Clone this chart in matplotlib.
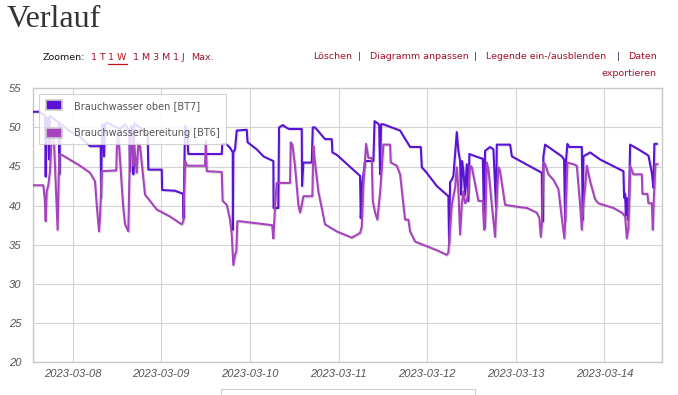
import matplotlib
matplotlib.use("Agg")
import matplotlib.pyplot as plt
import matplotlib.dates as mdates
import matplotlib.patheffects as pe
from matplotlib.patches import Patch, Rectangle
from matplotlib.lines import Line2D
import pandas as pd

# hours after 2023-03-07 00:00, temperature in degC
bt7_hours = [13.25, 14.95, 15.5, 16.5, 16.69, 16.9, 17.4, 17.58, 17.8, 19.2, 20.2, 20.37, 20.6, 23.3,
             26.0, 28.69, 31.58, 31.67, 31.94, 32.3, 32.48, 32.8, 33.29, 36.8, 38.17, 39.3, 39.52,
             39.8, 40.2, 40.42, 40.7, 42.2, 44.3, 44.48, 48.11, 48.2, 51.71, 53.96, 54.0, 54.42,
             54.9, 55.31, 64.36, 64.5, 65.53, 66.61, 67.34, 67.38, 67.5, 67.96, 68.42, 71.13, 71.35,
             73.84, 75.63, 78.34, 78.39, 79.69, 79.88, 80.88, 81.78, 82.59, 86.03, 86.11, 86.47,
             88.74, 89.01, 89.63, 90.53, 92.34, 94.16, 94.32, 95.51, 101.82, 102.01, 102.36, 103.18,
             105.43, 105.75, 106.70, 107.0, 107.24, 107.51, 108.14, 112.66, 113.55, 115.37, 118.27,
             118.54, 119.70, 122.60, 125.74, 125.93, 126.2, 126.66, 127.10, 128.02, 128.45, 128.91,
             129.18, 129.45, 129.81, 130.27, 130.73, 131.16, 131.43, 134.33, 135.06, 135.41, 135.68,
             137.04, 137.93, 138.66, 138.85, 142.46, 142.92, 151.04, 151.12, 151.39, 151.47, 151.93,
             153.75, 156.46, 157.08, 157.35, 157.62, 157.98, 158.44, 161.88, 162.15, 162.31, 164.13,
             166.83, 173.15, 173.34, 173.61, 173.80, 174.01, 174.34, 174.69, 174.96, 177.21, 179.92,
             180.84, 181.27, 181.54, 182.20]
bt7_temp = [52.0, 52.0, 51.8, 51.5, 43.7, 51.3, 51.2, 45.9, 51.5, 51.0, 50.6, 44.0, 50.5, 49.5,
            48.8, 47.6, 47.6, 41.0, 50.4, 50.2, 46.3, 50.5, 50.6, 49.8, 50.4, 49.6, 44.4,
            50.2, 50.0, 44.0, 50.5, 50.0, 49.0, 44.6, 44.6, 42.0, 41.9, 41.5, 38.4, 50.2,
            49.8, 46.6, 46.6, 47.9, 47.9, 47.4, 46.8, 36.9, 46.8, 47.2, 49.6, 49.7, 48.1,
            47.2, 46.3, 45.7, 39.7, 39.7, 50.0, 50.3, 50.0, 49.8, 49.8, 42.5, 45.5,
            45.5, 50.0, 50.0, 49.5, 48.5, 48.5, 46.8, 46.5, 43.8, 38.4, 42.7, 45.7,
            45.7, 50.8, 50.5, 50.2, 44.0, 50.4, 50.4, 49.6, 48.9, 47.5, 47.5,
            44.9, 44.3, 42.5, 41.2, 35.2, 43.0, 43.3, 43.8, 49.4, 47.0, 45.7,
            41.4, 45.7, 44.5, 41.4, 45.3, 40.6, 46.6, 46.1, 46.0, 37.8, 47.0,
            47.5, 47.2, 39.7, 47.8, 47.8, 46.3, 44.2, 38.2, 38.0, 46.3, 47.8,
            47.2, 46.3, 45.9, 38.0, 45.9, 47.9, 47.5, 47.5, 38.2, 46.3, 46.8,
            45.9, 44.4, 41.0, 41.5, 38.8, 41.0, 38.2, 41.0, 47.8, 47.2, 46.4,
            44.2, 42.3, 47.9, 47.9]

bt6_hours = [13.25, 16.04, 16.4, 16.69, 16.96, 17.39, 17.85, 18.31, 18.9, 19.91, 20.35, 21.37,
             25.98, 28.69, 30.04, 30.50, 31.12, 31.4, 31.86, 35.8, 36.0, 36.3, 37.63, 38.17,
             39.06, 39.25, 39.52, 39.98, 40.42, 40.6, 41.34, 41.77, 42.23, 43.58, 44.94, 46.75,
             50.36, 53.53, 53.96, 54.42, 55.0, 59.84, 60.05, 60.30, 64.36, 64.6, 65.72, 66.6,
             67.07, 67.50, 67.96, 68.3, 68.59, 69.32, 78.0, 78.34, 78.8, 79.26, 82.86, 83.05,
             83.5, 84.22, 85.11, 85.57, 86.0, 86.47, 88.9, 89.17, 89.6, 90.53, 92.34, 95.51,
             99.58, 101.82, 102.28, 102.72, 103.45, 104.07, 104.99, 105.26, 105.89, 106.51, 107.3,
             108.14, 109.95, 110.14, 111.77, 112.66, 114.01, 114.91, 115.37, 116.72, 119.89,
             122.60, 125.31, 125.74, 126.66, 127.56, 128.02, 128.45, 128.91, 129.37, 129.81,
             130.27, 130.73, 131.16, 131.62, 132.1, 133.87, 135.06, 135.41, 135.68, 136.14,
             136.6, 137.50, 138.39, 138.8, 139.29, 139.7, 141.10, 145.16, 146.98, 149.69,
             150.39, 150.77, 151.12, 151.47, 151.93, 152.83, 154.19, 155.54, 156.46, 157.16,
             157.5, 157.98, 159.60, 160.52, 161.0, 161.42, 161.88, 162.3, 162.8, 163.23, 164.13,
             165.48, 166.38, 170.44, 172.71, 173.61, 174.07, 174.50, 174.96, 175.85, 178.13,
             178.29, 179.65, 179.92, 180.84, 181.11, 181.4, 181.81, 182.36]
bt6_temp = [42.6, 42.6, 41.0, 38.0, 41.8, 42.6, 44.4, 48.9, 48.5, 36.9, 46.6, 46.4,
            45.1, 44.2, 43.1, 40.1, 36.7, 38.5, 44.4, 44.5, 48.3, 49.5, 40.1, 37.6,
            36.7, 41.4, 47.6, 48.7, 45.1, 48.0, 44.2, 47.9, 47.6, 41.4, 40.6, 39.5,
            38.6, 37.6, 38.0, 45.7, 45.1, 45.1, 48.3, 44.4, 44.3, 40.6, 40.1, 38.2,
            36.3, 32.4, 33.7, 34.1, 38.0, 38.0, 37.5, 35.8, 39.9, 42.9, 42.9, 48.1,
            47.8, 45.0, 40.1, 39.1, 40.0, 41.2, 41.2, 47.6, 45.6, 41.8, 37.6, 36.7,
            35.9, 36.5, 37.3, 42.7, 47.9, 46.1, 46.1, 40.6, 39.1, 38.2, 42.0,
            47.8, 47.8, 45.5, 45.1, 44.0, 38.2, 38.2, 36.7, 35.4, 34.8,
            34.3, 33.7, 34.0, 40.1, 42.3, 44.9, 42.0, 36.3, 40.1, 41.8,
            40.3, 40.6, 41.8, 45.1, 44.9, 40.6, 40.6, 36.9, 37.2, 45.5,
            44.6, 40.1, 36.0, 40.5, 44.9, 44.5, 40.1, 39.8, 39.7, 39.1,
            38.4, 36.0, 38.0, 45.5, 45.3, 44.0, 43.3, 42.1, 38.4, 35.8,
            39.5, 45.5, 45.3, 45.1, 42.5, 40.1, 36.9, 40.1, 42.5, 45.1, 43.1,
            40.8, 40.3, 39.7, 39.1, 38.6, 35.8, 37.1, 45.1, 44.0, 44.0,
            41.5, 41.5, 40.3, 40.3, 36.9, 41.0, 45.3, 45.3]

series_labels = ["Brauchwasser oben [BT7]", "Brauchwasserbereitung [BT6]"]
series_colors = ["#5a12d6", "#a843bf"]
y_ticks = [20, 25, 30, 35, 40, 45, 50, 55]

t0 = pd.Timestamp("2023-03-07")
bt7_time = t0 + pd.to_timedelta(bt7_hours, unit="h")
bt6_time = t0 + pd.to_timedelta(bt6_hours, unit="h")

W, H = 678, 395
fig = plt.figure(figsize=(W / 100, H / 100), dpi=100)
fig.patch.set_facecolor("white")


def fx(px):
    return px / W


def fy(py):
    return 1 - py / H


ax = fig.add_axes([fx(33), fy(362), (662 - 33) / W, (362 - 88.3) / H])
shadow = [pe.SimpleLineShadow(offset=(0.8, -0.8), shadow_color="#000000", alpha=0.12),
          pe.Normal()]
ax.plot(bt7_time, bt7_temp, color=series_colors[0], lw=1.5, path_effects=shadow, zorder=3)
ax.plot(bt6_time, bt6_temp, color=series_colors[1], lw=1.5, path_effects=shadow, zorder=3)

ax.set_xlim(t0 + pd.Timedelta(hours=13.25), t0 + pd.Timedelta(hours=183.6))
ax.set_ylim(20, 55)
ax.set_yticks(y_ticks)
ax.xaxis.set_major_locator(mdates.DayLocator())
ax.xaxis.set_major_formatter(mdates.DateFormatter("%Y-%m-%d"))
ax.grid(True, color="#d4d4d4", lw=0.8)
ax.set_axisbelow(True)
for s in ax.spines.values():
    s.set_color("#c8c8c8")
    s.set_linewidth(1.0)
ax.tick_params(axis="both", length=0, labelsize=8, labelcolor="#545454")
ax.tick_params(axis="y", pad=8.5)
ax.tick_params(axis="x", pad=5)
for lab in ax.get_xticklabels() + ax.get_yticklabels():
    lab.set_fontstyle("italic")
    lab.set_family("Liberation Sans")

handles = [Patch(facecolor=c, edgecolor="#cccccc", linewidth=1.2) for c in series_colors]
leg = ax.legend(handles, series_labels, loc="upper left", bbox_to_anchor=(0.010, 0.979),
                borderaxespad=0, fancybox=False, framealpha=0.85, edgecolor="#cccccc",
                prop={"family": "DejaVu Sans", "size": 7}, labelcolor="#555555",
                handlelength=1.7, handleheight=1.2, handletextpad=1.2,
                borderpad=0.65, labelspacing=1.75)
leg.get_frame().set_linewidth(0.8)

# page title and chart toolbar
fig.text(fx(6.5), fy(27), "Verlauf", family="Liberation Serif", fontsize=23,
         color="#333333", va="baseline")

link = "#a3102e"
tb = dict(family="DejaVu Sans", fontsize=6.8, va="center")
fig.text(fx(42.7), fy(57.5), "Zoomen:", color="#111111", **tb)
for txt, x0 in [("1 T", 90.7), ("1 W", 108), ("1 M", 132.7), ("3 M", 152.7),
                ("1 J", 172.7), ("Max.", 190.7)]:
    fig.text(fx(x0), fy(57.5), txt, color="#c0141c" if txt == "1 W" else link, **tb)
fig.add_artist(Line2D([fx(108), fx(127)], [fy(63.5), fy(63.5)], color="#c0141c", lw=0.9))

for txt, x0, col in [("Löschen", 313, link), ("|", 357.5, "#1a2a5a"),
                     ("Diagramm anpassen", 370, link), ("|", 473.5, "#1a2a5a"),
                     ("Legende ein-/ausblenden", 486, link), ("|", 616.5, "#1a2a5a")]:
    fig.text(fx(x0), fy(56.5), txt, color=col, **tb)
fig.text(fx(656.7), fy(56.5), "Daten", color=link, ha="right", **tb)
fig.text(fx(656.7), fy(73), "exportieren", color=link, ha="right", **tb)

# top edge of the box below the chart
fig.add_artist(Rectangle((fx(220.5), fy(400)), (475 - 220.5) / W, (400 - 388.5) / H,
                         transform=fig.transFigure, facecolor="white",
                         edgecolor="#cccccc", lw=0.8))

fig.savefig("out.png", dpi=100)
